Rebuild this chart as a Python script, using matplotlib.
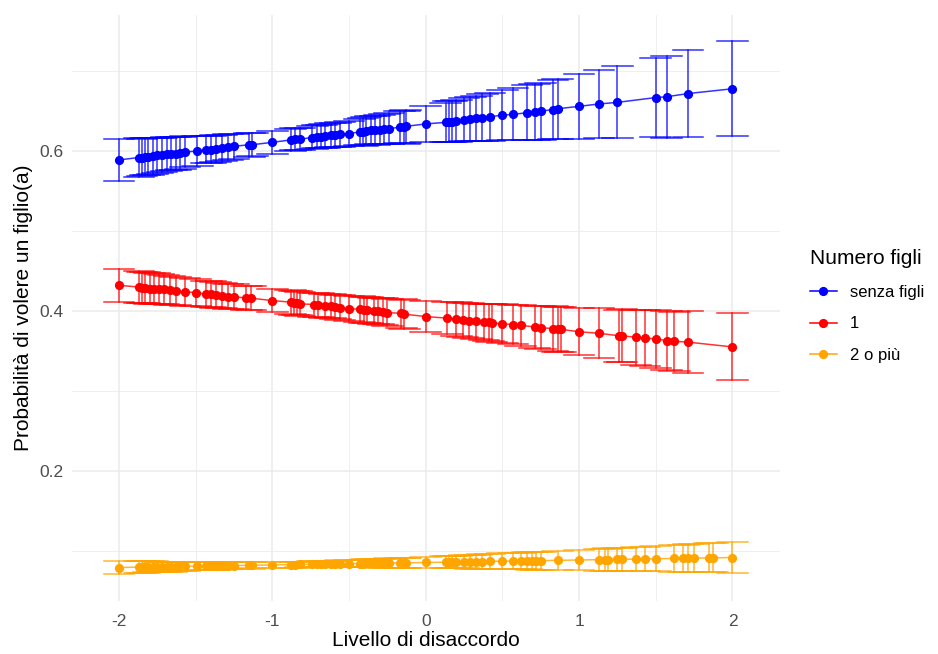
import matplotlib
matplotlib.use("Agg")
import matplotlib.pyplot as plt
from matplotlib.lines import Line2D
from matplotlib.ticker import MultipleLocator

plt.rcParams['font.family'] = ['Liberation Sans', 'DejaVu Sans']

# ---------------- data ----------------
series_names = ["senza figli", "1", "2 o più"]
series_colors = ["#0000FF", "#FF0000", "#FFA500"]

x_senza = [-2.00, -1.87, -1.85, -1.83, -1.81, -1.78, -1.75, -1.72, -1.69, -1.66, -1.63, -1.60, -1.57,
           -1.49, -1.43, -1.40, -1.37, -1.33, -1.29, -1.25, -1.15, -1.13, -1.00, -0.88, -0.85, -0.82,
           -0.74, -0.71, -0.68, -0.66, -0.62, -0.59, -0.56, -0.50, -0.43, -0.41, -0.39, -0.36, -0.33,
           -0.30, -0.27, -0.24, -0.17, -0.14, -0.13, 0.00, 0.13, 0.15, 0.17, 0.20, 0.25, 0.29, 0.33,
           0.37, 0.42, 0.50, 0.57, 0.66, 0.71, 0.75, 0.83, 0.86, 1.00, 1.13, 1.25, 1.50, 1.57, 1.71, 2.00]
y_senza = [0.589, 0.592, 0.592, 0.593, 0.593, 0.594, 0.595, 0.595, 0.596, 0.597, 0.597, 0.598, 0.599,
           0.600, 0.602, 0.602, 0.603, 0.604, 0.605, 0.606, 0.608, 0.608, 0.611, 0.614, 0.615, 0.615,
           0.617, 0.618, 0.618, 0.619, 0.620, 0.620, 0.621, 0.622, 0.624, 0.624, 0.625, 0.626, 0.626,
           0.627, 0.628, 0.628, 0.630, 0.630, 0.631, 0.634, 0.636, 0.637, 0.637, 0.638, 0.639, 0.640, 0.641,
           0.642, 0.643, 0.645, 0.646, 0.648, 0.649, 0.650, 0.652, 0.653, 0.656, 0.659, 0.661, 0.667, 0.668, 0.672, 0.678]
err_senza = [0.0260, 0.0239, 0.0235, 0.0232, 0.0229, 0.0224, 0.0220, 0.0215, 0.0211, 0.0206, 0.0202, 0.0198, 0.0193,
             0.0183, 0.0175, 0.0172, 0.0168, 0.0164, 0.0160, 0.0156, 0.0149, 0.0147, 0.0141, 0.0140, 0.0140, 0.0141,
             0.0144, 0.0145, 0.0147, 0.0148, 0.0151, 0.0153, 0.0156, 0.0161, 0.0168, 0.0171, 0.0173, 0.0177, 0.0180,
             0.0184, 0.0188, 0.0192, 0.0202, 0.0206, 0.0208, 0.0228, 0.0248, 0.0252, 0.0255, 0.0260, 0.0269, 0.0275, 0.0282,
             0.0289, 0.0298, 0.0312, 0.0325, 0.0341, 0.0350, 0.0357, 0.0372, 0.0378, 0.0404, 0.0428, 0.0451, 0.0498, 0.0512, 0.0539, 0.0595]

x_uno = [-2.00, -1.87, -1.85, -1.83, -1.80, -1.77, -1.74, -1.71, -1.67, -1.63, -1.57, -1.50, -1.43, -1.40,
         -1.37, -1.33, -1.29, -1.25, -1.17, -1.14, -1.00, -0.88, -0.86, -0.84, -0.82, -0.73, -0.70, -0.66,
         -0.62, -0.59, -0.56, -0.50, -0.43, -0.40, -0.38, -0.34, -0.31, -0.28, -0.25, -0.16, -0.14, 0.00,
         0.14, 0.20, 0.24, 0.28, 0.33, 0.38, 0.41, 0.43, 0.50, 0.57, 0.62, 0.71, 0.75, 0.83, 0.86, 0.88,
         1.00, 1.13, 1.26, 1.28, 1.37, 1.43, 1.50, 1.57, 1.62, 1.71, 2.00]
y_uno = [0.432, 0.430, 0.429, 0.429, 0.428, 0.428, 0.427, 0.427, 0.426, 0.425, 0.424, 0.423, 0.421, 0.421,
         0.420, 0.419, 0.418, 0.418, 0.416, 0.416, 0.413, 0.411, 0.410, 0.410, 0.409, 0.408, 0.407, 0.406,
         0.406, 0.405, 0.404, 0.403, 0.402, 0.401, 0.401, 0.400, 0.400, 0.399, 0.398, 0.397, 0.396, 0.393,
         0.391, 0.390, 0.389, 0.388, 0.387, 0.386, 0.386, 0.385, 0.384, 0.383, 0.382, 0.380, 0.379, 0.378, 0.377, 0.377,
         0.374, 0.372, 0.369, 0.369, 0.367, 0.366, 0.365, 0.363, 0.362, 0.361, 0.355]
err_uno = [0.0210, 0.0198, 0.0196, 0.0194, 0.0192, 0.0189, 0.0187, 0.0184, 0.0181, 0.0178, 0.0174, 0.0169, 0.0165, 0.0163,
           0.0161, 0.0159, 0.0157, 0.0155, 0.0152, 0.0152, 0.0149, 0.0148, 0.0148, 0.0148, 0.0148, 0.0150, 0.0150, 0.0152,
           0.0153, 0.0154, 0.0155, 0.0158, 0.0161, 0.0163, 0.0164, 0.0166, 0.0168, 0.0170, 0.0172, 0.0179, 0.0180, 0.0192,
           0.0204, 0.0210, 0.0214, 0.0218, 0.0223, 0.0228, 0.0231, 0.0233, 0.0241, 0.0248, 0.0254, 0.0264, 0.0268, 0.0277, 0.0281, 0.0283,
           0.0297, 0.0313, 0.0328, 0.0331, 0.0342, 0.0349, 0.0358, 0.0366, 0.0372, 0.0384, 0.0420]

x_due = [-2.00, -1.87, -1.85, -1.83, -1.81, -1.78, -1.75, -1.72, -1.69, -1.66, -1.63, -1.60, -1.57,
         -1.49, -1.43, -1.40, -1.37, -1.33, -1.29, -1.25, -1.15, -1.13, -1.00, -0.88, -0.85, -0.82,
         -0.74, -0.71, -0.68, -0.66, -0.62, -0.59, -0.56, -0.50, -0.43, -0.41, -0.39, -0.36, -0.33,
         -0.30, -0.27, -0.24, -0.17, -0.14, -0.13, 0.00, 0.13, 0.15, 0.17, 0.20, 0.25, 0.29, 0.33,
         0.37, 0.42, 0.50, 0.57, 0.62, 0.66, 0.69, 0.72, 0.75, 0.86, 1.00, 1.13, 1.17, 1.19, 1.25,
         1.28, 1.37, 1.43, 1.50, 1.62, 1.68, 1.71, 1.75, 1.85, 1.87, 2.00]
y_due = [0.0790, 0.0795, 0.0796, 0.0796, 0.0797, 0.0798, 0.0799, 0.0800, 0.0801, 0.0802, 0.0802, 0.0803, 0.0804,
         0.0807, 0.0809, 0.0810, 0.0811, 0.0812, 0.0813, 0.0814, 0.0817, 0.0818, 0.0822, 0.0826, 0.0827, 0.0828,
         0.0830, 0.0831, 0.0832, 0.0833, 0.0834, 0.0835, 0.0836, 0.0838, 0.0840, 0.0840, 0.0841, 0.0842, 0.0843,
         0.0844, 0.0845, 0.0846, 0.0848, 0.0849, 0.0849, 0.0853, 0.0857, 0.0858, 0.0858, 0.0859, 0.0861, 0.0862, 0.0863,
         0.0864, 0.0866, 0.0869, 0.0871, 0.0872, 0.0873, 0.0874, 0.0875, 0.0876, 0.0880, 0.0884, 0.0888, 0.0889, 0.0890, 0.0892,
         0.0893, 0.0895, 0.0897, 0.0900, 0.0903, 0.0905, 0.0906, 0.0907, 0.0910, 0.0911, 0.0915]
err_due = [0.0080, 0.0073, 0.0072, 0.0071, 0.0069, 0.0068, 0.0066, 0.0065, 0.0063, 0.0062, 0.0060, 0.0058, 0.0057,
           0.0053, 0.0051, 0.0049, 0.0048, 0.0046, 0.0045, 0.0044, 0.0041, 0.0040, 0.0038, 0.0037, 0.0037, 0.0037,
           0.0039, 0.0039, 0.0040, 0.0040, 0.0041, 0.0042, 0.0043, 0.0045, 0.0048, 0.0049, 0.0050, 0.0051, 0.0052,
           0.0054, 0.0055, 0.0057, 0.0060, 0.0062, 0.0062, 0.0069, 0.0076, 0.0077, 0.0078, 0.0080, 0.0083, 0.0085, 0.0087,
           0.0090, 0.0093, 0.0097, 0.0102, 0.0105, 0.0107, 0.0109, 0.0111, 0.0112, 0.0119, 0.0128, 0.0136, 0.0138, 0.0139, 0.0143,
           0.0145, 0.0151, 0.0154, 0.0159, 0.0166, 0.0170, 0.0172, 0.0174, 0.0181, 0.0182, 0.0190]

x_ticks = [-2, -1, 0, 1, 2]
y_ticks = [0.2, 0.4, 0.6]
x_label = "Livello di disaccordo"
y_label = "Probabilità di volere un figlio(a)"
legend_title = "Numero figli"

# ---------------- figure ----------------
fig = plt.figure(figsize=(9.38, 6.54), dpi=100)
ax = fig.add_axes([71.5 / 938, 1 - 601 / 654, (780 - 71.5) / 938, (601 - 15) / 654])

all_x = [x_senza, x_uno, x_due]
all_y = [y_senza, y_uno, y_due]
all_e = [err_senza, err_uno, err_due]

cap_half = 0.1
for xs, ys, es, col in zip(all_x, all_y, all_e, series_colors):
    ax.plot(xs, ys, color=col, lw=1.1, alpha=0.8, zorder=3, solid_capstyle='butt')
    ax.plot(xs, ys, linestyle='none', marker='o', ms=5.6, color=col, mec=col, zorder=4)
    for xv, yv, ev in zip(xs, ys, es):
        ax.plot([xv, xv], [yv - ev, yv + ev], color=col, lw=1.1, alpha=0.8, zorder=3)
        ax.plot([xv - cap_half, xv + cap_half], [yv - ev, yv - ev], color=col, lw=1.1, alpha=0.8, zorder=3)
        ax.plot([xv - cap_half, xv + cap_half], [yv + ev, yv + ev], color=col, lw=1.1, alpha=0.8, zorder=3)

ax.set_xlim(-2.31, 2.31)
ax.set_ylim(0.0371, 0.7703)
ax.set_xticks(x_ticks)
ax.set_xticklabels([str(t) for t in x_ticks])
ax.set_yticks(y_ticks)
ax.set_yticklabels([f"{t:.1f}" for t in y_ticks])
ax.xaxis.set_minor_locator(MultipleLocator(0.5))
ax.yaxis.set_minor_locator(MultipleLocator(0.1))
ax.grid(which='major', color='#EBEBEB', lw=1.1)
ax.grid(which='minor', color='#EBEBEB', lw=0.55)
ax.set_axisbelow(True)
for s in ax.spines.values():
    s.set_visible(False)
ax.tick_params(which='both', length=0)
ax.tick_params(axis='x', labelsize=12.5, labelcolor='#4D4D4D', pad=9)
ax.tick_params(axis='y', labelsize=12.5, labelcolor='#4D4D4D', pad=6)
ax.set_xlabel(x_label, fontsize=15, color='black', labelpad=2)
ax.set_ylabel(y_label, fontsize=15, color='black', labelpad=4)

handles = [Line2D([0], [0], color=c, lw=1.1, marker='o', ms=5.6) for c in series_colors]
leg = fig.legend(handles, series_names, title=legend_title, loc='upper left',
                 bbox_to_anchor=(795 / 938, 1 - 234 / 654), frameon=False,
                 fontsize=12, title_fontsize=15, handlelength=1.6, handletextpad=0.8,
                 labelspacing=1.0)
leg._legend_box.align = "left"

fig.savefig("out.png", dpi=100)
